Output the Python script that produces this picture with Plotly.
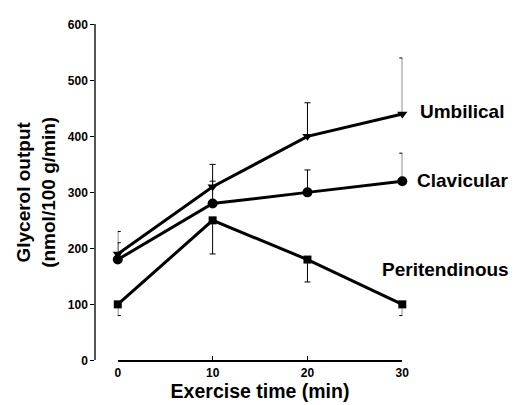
import plotly.graph_objects as go

times = [0, 10, 20, 30]
umbilical = [190, 310, 400, 440]
umbilical_err = [40, 40, 60, 100]
clavicular = [180, 280, 300, 320]
clavicular_err = [30, 40, 40, 50]
peritendinous = [100, 250, 180, 100]
peritendinous_err = [20, 60, 40, 20]

W, H = 528, 405
fig = go.Figure()

def add(y, err, sym, size, up=True):
    ed = dict(type="data", color="black", thickness=1, width=3)
    if up:
        ed.update(array=err, arrayminus=[0] * len(err), symmetric=False)
    else:
        ed.update(array=[0] * len(err), arrayminus=err, symmetric=False)
    fig.add_trace(go.Scatter(
        x=times, y=y, mode="lines+markers",
        line=dict(color="black", width=3),
        marker=dict(symbol=sym, size=size, color="black"),
        error_y=ed, cliponaxis=False, showlegend=False))

add(umbilical, umbilical_err, "triangle-down", 9)
add(clavicular, clavicular_err, "circle", 10)
add(peritendinous, peritendinous_err, "square", 8, up=False)

labels = [("Umbilical", 425, 108), ("Clavicular", 422, 180), ("Peritendinous", 386, 272)]
for t, px, py in labels:
    fig.add_annotation(x=px / W, y=(H - py) / H, xref="paper", yref="paper", text=t,
                       showarrow=False, xanchor="left", yanchor="middle", xshift=-2,
                       font=dict(family="Liberation Sans", size=19, color="black", weight="bold"))

fig.update_layout(
    width=W, height=H, margin=dict(l=0, r=0, t=0, b=0),
    paper_bgcolor="white", plot_bgcolor="white",
    font=dict(family="Liberation Sans", color="black"),
    xaxis=dict(domain=[117 / W, 407 / W], range=[0, 30], tickvals=[0, 10, 20, 30],
               showline=True, linecolor="black", linewidth=2, ticks="inside", ticklen=4,
               tickcolor="black", tickwidth=1, showgrid=False, zeroline=False,
               tickfont=dict(size=12, weight="bold"),
               title=dict(text="Exercise time (min)", font=dict(size=19.5, weight="bold"), standoff=6)),
    yaxis=dict(domain=[(H - 366) / H, (H - 18) / H], range=[0, 600], anchor="free",
               position=94 / W, tickvals=[0, 100, 200, 300, 400, 500, 600],
               showline=True, linecolor="#555555", linewidth=2, ticks="outside", ticklen=4,
               tickcolor="black", tickwidth=1, showgrid=False, zeroline=False,
               tickfont=dict(size=12, weight="bold"),
               title=dict(text="Glycerol output<br>(nmol/100 g/min)", font=dict(size=19, weight="bold"), standoff=6)),
)
fig.write_html("out.html")
